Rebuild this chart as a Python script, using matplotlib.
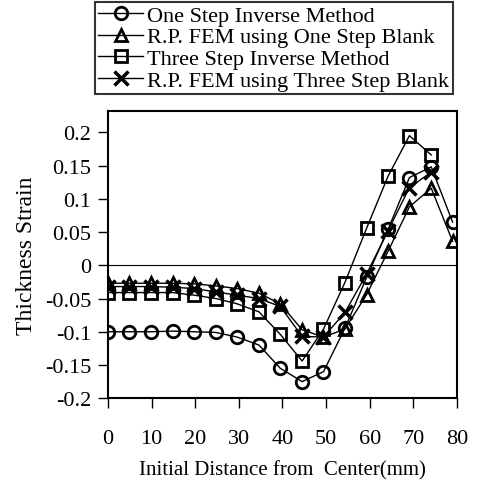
import matplotlib.pyplot as plt
import numpy as np

plt.rcParams['font.family'] = ['Liberation Serif', 'DejaVu Serif']

# distances of the nodes (mm)
dist = [0, 4.9, 9.9, 14.8, 19.8, 24.7, 29.6, 34.6, 39.5, 44.5,
        49.4, 54.3, 59.3, 64.2, 69.1, 74.1, 79.0]

one_step_inv = [-0.1, -0.1, -0.1, -0.099, -0.1, -0.101, -0.108, -0.12, -0.155,
                -0.175, -0.16, -0.095, -0.018, 0.054, 0.132, 0.148, 0.065]
rp_one_step = [-0.027, -0.027, -0.027, -0.027, -0.028, -0.031, -0.035, -0.042,
               -0.058, -0.097, -0.108, -0.096, -0.044, 0.021, 0.088, 0.116, 0.036]
three_step_inv = [-0.041, -0.041, -0.041, -0.041, -0.045, -0.05, -0.058, -0.07,
                  -0.104, -0.144, -0.096, -0.026, 0.056, 0.134, 0.195, 0.166]
rp_three_step = [-0.032, -0.032, -0.032, -0.033, -0.035, -0.04, -0.045, -0.05,
                 -0.062, -0.107, -0.108, -0.071, -0.013, 0.052, 0.117, 0.14]

labels = ['One Step Inverse Method', 'R.P. FEM using One Step Blank',
          'Three Step Inverse Method', 'R.P. FEM using Three Step Blank']

fig = plt.figure(figsize=(4.78, 4.81), dpi=100)
ax = fig.add_axes([0.226, 0.170, 0.730, 0.597])

style = dict(color='black', lw=1.0, mfc='none', mec='black', mew=2.0)
h1, = ax.plot(dist, one_step_inv, marker='o', ms=9, **style)
h2, = ax.plot(dist, rp_one_step, marker='^', ms=9, **style)
h3, = ax.plot(dist[:len(three_step_inv)], three_step_inv, marker='s', ms=9, **style)
h4, = ax.plot(dist[:len(rp_three_step)], rp_three_step, marker='x', ms=10,
              color='black', lw=1.0, mec='black', mew=2.5)

ax.axhline(0, color='black', lw=0.8)

ax.set_xlim(0, 80)
ax.set_ylim(-0.2, 0.232)
ax.set_xticks(np.arange(0, 81, 10))
ax.set_yticks([-0.2, -0.15, -0.1, -0.05, 0, 0.05, 0.1, 0.15, 0.2])
ax.set_yticklabels(['-0.2', '-0.15', '-0.1', '-0.05', '0', '0.05', '0.1', '0.15', '0.2'])
ax.tick_params(direction='out', length=7, width=1, labelsize=16,
               top=False, right=False)
ax.tick_params(axis='y', pad=5)
ax.tick_params(axis='x', pad=15)
for s in ax.spines.values():
    s.set_linewidth(1.5)

ax.set_ylabel('Thickness Strain', fontsize=17, labelpad=6)
ax.set_xlabel('Initial Distance from  Center(mm)', fontsize=15, labelpad=9)

leg = fig.legend([h1, h2, h3, h4], labels, loc='upper left',
                 bbox_to_anchor=(0.199, 0.994), fontsize=16, frameon=True,
                 fancybox=False, edgecolor='black', handlelength=2.0,
                 handletextpad=0.2, borderpad=0.15, labelspacing=0.05,
                 borderaxespad=0)
leg.get_frame().set_linewidth(1.5)

fig.savefig('out.png', dpi=100)
